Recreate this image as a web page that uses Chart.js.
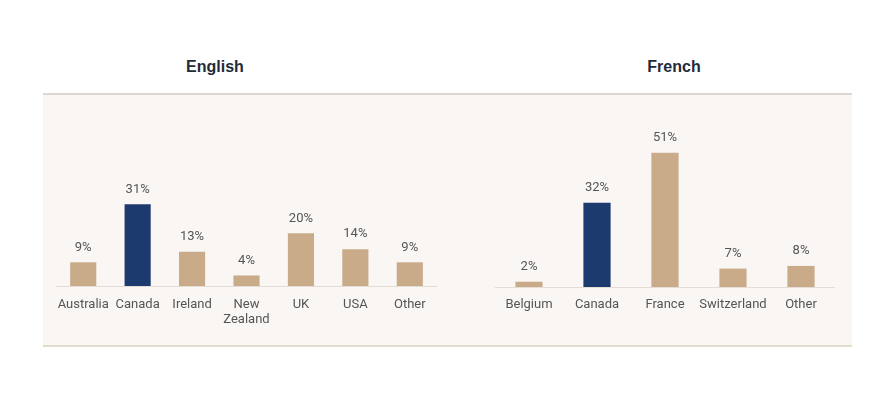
<!DOCTYPE html>
<html lang="en">
<head>
  <meta charset="UTF-8">
  <title>Language split</title>
  <script src="https://cdn.jsdelivr.net/npm/chart.js"></script>
  <style>
    body {
      margin: 0;
      width: 880px;
      height: 397px;
      background: #ffffff;
      position: relative;
      overflow: hidden;
      font-family: Roboto, 'Liberation Sans', sans-serif;
    }

    .panel {
      position: absolute;
      left: 43px;
      top: 93px;
      width: 809px;
      height: 250px;
      background: #f9f6f4;
      border-top: 2px solid #dcd7d1;
      border-bottom: 2px solid #e3dccd;
    }

    .title {
      position: absolute;
      top: 58px;
      font-family: 'Liberation Sans', Arial, sans-serif;
      font-weight: bold;
      font-size: 16px;
      color: #1f2b3a;
      transform: translateX(-50%);
    }

    .box {
      position: absolute;
    }
  </style>
</head>
<body>

  <div class="panel"></div>
  <div class="title" style="left:215px">English</div>
  <div class="title" style="left:674px">French</div>

  <div class="box" style="left:56px; top:128px; width:381px; height:202px;">
    <canvas id="englishChart"></canvas>
  </div>
  <div class="box" style="left:495px; top:129px; width:340px; height:202px;">
    <canvas id="frenchChart"></canvas>
  </div>

  <script>
    const englishLabels = ['Australia', 'Canada', 'Ireland', ['New', 'Zealand'], 'UK', 'USA', 'Other'];
    const englishValues = [9, 31, 13, 4, 20, 14, 9];

    const frenchLabels = ['Belgium', 'Canada', 'France', 'Switzerland', 'Other'];
    const frenchValues = [2, 32, 51, 7, 8];

    const tan = '#c9ab8a';
    const navy = '#1d3a6e';

    // value labels over each bar
    const valueLabels = {
      id: 'valueLabels',
      afterDatasetsDraw(chart) {
        const ctx = chart.ctx;
        const meta = chart.getDatasetMeta(0);
        const data = chart.data.datasets[0].data;
        ctx.save();
        ctx.font = '13px Roboto, sans-serif';
        ctx.fillStyle = '#555555';
        ctx.textAlign = 'center';
        ctx.textBaseline = 'middle';
        meta.data.forEach((bar, i) => {
          ctx.fillText(data[i] + '%', bar.x, bar.y - 15);
        });
        ctx.restore();
      }
    };

    function makeChart(id, labels, values, barPct, tickPad) {
      const colors = labels.map(l => l === 'Canada' ? navy : tan);
      return new Chart(document.getElementById(id), {
        type: 'bar',
        data: {
          labels: labels,
          datasets: [{
            data: values,
            backgroundColor: colors,
            categoryPercentage: 1,
            barPercentage: barPct
          }]
        },
        options: {
          responsive: true,
          maintainAspectRatio: false,
          animation: false,
          layout: { padding: 0 },
          plugins: {
            legend: { display: false },
            tooltip: { enabled: false }
          },
          scales: {
            x: {
              grid: { display: false, drawTicks: false },
              border: { display: true, color: '#e4ddd5', width: 1 },
              ticks: {
                color: '#555555',
                padding: tickPad,
                maxRotation: 0,
                autoSkip: false,
                font: { family: 'Roboto', size: 13, lineHeight: 1.15 }
              },
              afterFit(scale) {
                scale.height = 44;
                scale.paddingLeft = 0;
                scale.paddingRight = 0;
              }
            },
            y: {
              display: false,
              min: 0,
              max: 60
            }
          }
        },
        plugins: [valueLabels]
      });
    }

    makeChart('englishChart', englishLabels, englishValues, 0.48, 11);
    makeChart('frenchChart', frenchLabels, frenchValues, 0.4, 10);
  </script>

</body>
</html>
